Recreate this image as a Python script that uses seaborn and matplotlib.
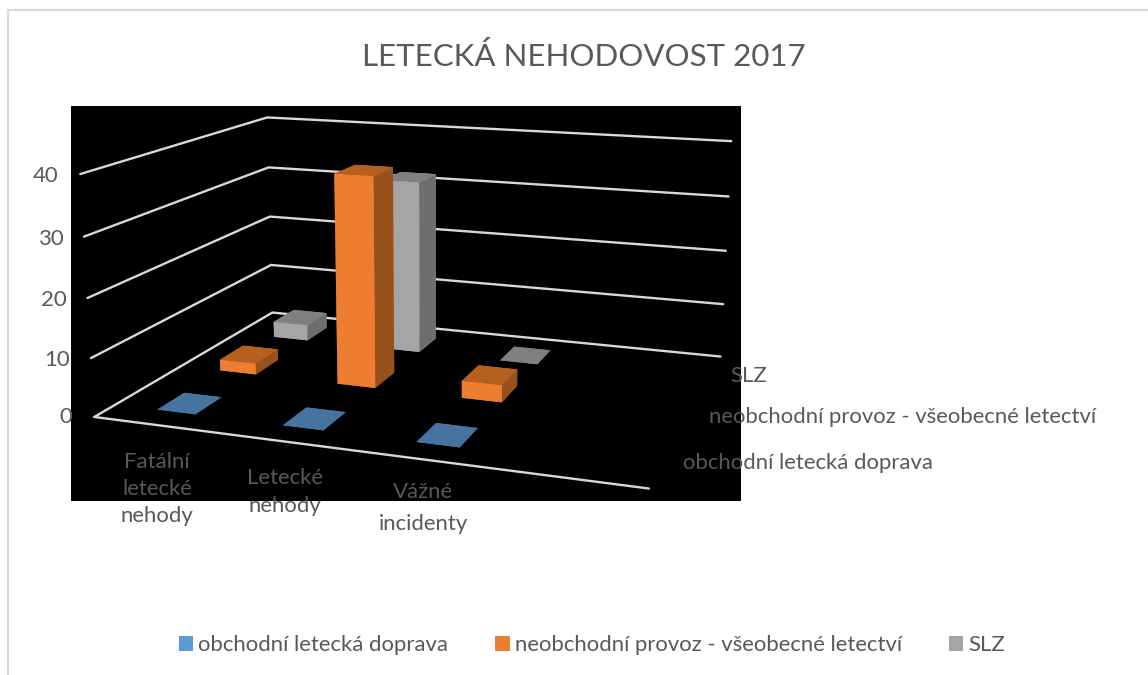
import matplotlib
matplotlib.use("Agg")
import matplotlib.pyplot as plt
from matplotlib.patches import Patch, Rectangle
import seaborn as sns

sns.set_theme(style="white")
plt.rcParams["font.family"] = ["Lato", "DejaVu Sans"]

W_PX, H_PX = 1148, 675

title = "LETECKÁ NEHODOVOST 2017"
categories = ["Fatální\nletecké\nnehody", "Letecké\nnehody", "Vážné\nincidenty"]
series = ["obchodní letecká doprava", "neobchodní provoz - všeobecné letectví", "SLZ"]
commercial = [0, 0, 0]
general = [2, 37, 3]
slz = [3, 32, 0]
value_ticks = [0, 10, 20, 30, 40]

TEXT = "#595959"
GRID = "#D9D9D9"
front = sns.color_palette(["#5B9BD5", "#ED7D31", "#A5A5A5"])
top = sns.color_palette(["#44749F", "#B5601F", "#808080"])
side = sns.color_palette(["#3A6488", "#97511D", "#6E6E6E"])


def fx(px):
    return px / W_PX


def fy(py):
    return 1 - py / H_PX


fig = plt.figure(figsize=(W_PX / 100, H_PX / 100), dpi=100)

# chart frame runs off the right and bottom of the figure
fig.add_artist(Rectangle((fx(8), fy(H_PX + 20)), fx(W_PX + 20), (H_PX + 10) / H_PX,
                         transform=fig.transFigure, fc="none", ec=GRID, lw=1.5, zorder=-6))
# plot area background
fig.add_artist(Rectangle((fx(71), fy(501)), 670 / W_PX, 395 / H_PX,
                         transform=fig.transFigure, fc="black", ec="none", zorder=-5))

# perspective camera and placement of the 3D box
ax = fig.add_axes([0, 0, 1, 1], projection="3d")
ax.set_xlim(0, 4)
ax.set_ylim(0, 3)
ax.set_zlim(0, 40)
ax.view_init(13.970, -70.494, 0.007)
ax.set_proj_type("persp", focal_length=0.3982)
ax.set_box_aspect((1.3750, 1.0179, 0.6054))
scale, cx, cy = 3700.25, 427.06, 272.88
vl = ax.viewLim
ax.set_position([(cx + scale * vl.x0) / W_PX, (H_PX - cy + scale * vl.y0) / H_PX,
                 scale * vl.width / W_PX, scale * vl.height / H_PX])
ax.patch.set_visible(False)
ax.set_axis_off()
ax.computed_zorder = False
ax.set_zorder(1)

# gridlines on the side and back walls, plus the front edge of the floor
for t in value_ticks:
    ax.plot([0, 0, 4], [0, 3, 3], [t, t, t], color=GRID, lw=1.7, zorder=1)
ax.plot([0, 4], [0, 0], [0, 0], color=GRID, lw=1.7, zorder=1)

# bars, back row first
w, d = 0.31, 0.41
rows = [commercial, general, slz]
for j in (2, 1, 0):
    for i, value in enumerate(rows[j]):
        faces = [top[j], top[j], front[j], front[j], side[j], side[j]]
        ax.bar3d(i + 0.5 - w / 2, j + 0.5 - d / 2, 0, w, d, value, color=faces, shade=False,
                 edgecolor="none", linewidth=0, zorder=5 + (2 - j) + i * 0.1)

fig.text(fx(584), fy(56), title, fontsize=22.5, color=TEXT, ha="center", va="center", zorder=10)

# value labels step outwards with the side wall
tick_pos = [(72, 417), (70, 360), (67, 300), (64, 239), (59, 176)]
for t, (x, y) in zip(value_ticks, tick_pos):
    fig.text(fx(x), fy(y), str(t), fontsize=16, color=TEXT, ha="right", va="center", zorder=10)

cat_pos = [(157, 489), (285, 492), (423, 508)]
cat_spacing = [1.45, 1.5, 1.74]
for label, (x, y), spacing in zip(categories, cat_pos, cat_spacing):
    fig.text(fx(x), fy(y), label, fontsize=15.95, color=TEXT, ha="center", va="center",
             linespacing=spacing, zorder=10)

series_pos = [(683, 463), (709, 417), (730, 376)]
for label, (x, y) in zip(series, series_pos):
    fig.text(fx(x), fy(y), label, fontsize=15.95, color=TEXT, ha="left", va="center", zorder=10)

handles = [Patch(facecolor=c, edgecolor="none", label=n) for c, n in zip(front, series)]
fig.legend(handles=handles, ncol=3, loc="center left", bbox_to_anchor=(fx(179), fy(645)),
           frameon=False, fontsize=15.95, labelcolor=TEXT, borderpad=0, borderaxespad=0,
           handlelength=0.65, handleheight=0.65, handletextpad=0.22, columnspacing=2.13)

fig.savefig("out.png", dpi=100)
